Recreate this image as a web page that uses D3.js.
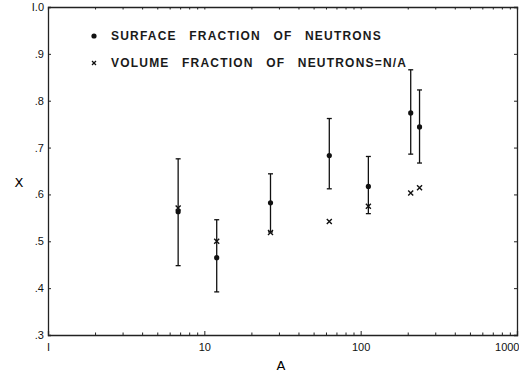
<!DOCTYPE html>
<html lang="en">
<head>
<meta charset="UTF-8">
<title>Surface fraction of neutrons</title>
<style>
    body { margin: 0; background: #fff; }
    svg { display: block; font-family: 'DejaVu Sans', sans-serif; }
    .axis path { stroke: #222; stroke-width: 1.3; }
    .axis line { stroke: #222; stroke-width: 1; }
    .axis text { font-size: 11px; fill: #111; }
    .legend text { font-family: 'Liberation Sans', Arial, sans-serif; font-size: 12px; font-weight: bold; fill: #1a1a1a; letter-spacing: 1.2px; word-spacing: 8px; }
</style>
</head>
<body>
<div id="chart"></div>
<script src="https://d3js.org/d3.v7.min.js"></script>
<script>
// mass number A of each nucleus
const massNumbers = [6.8, 12, 26.5, 63, 112, 209, 238];
// surface fraction of neutrons with error bars
const surface = [0.563, 0.465, 0.582, 0.683, 0.617, 0.774, 0.744];
const surfaceLow = [0.448, 0.392, 0.520, 0.612, 0.559, 0.686, 0.667];
const surfaceHigh = [0.676, 0.546, 0.644, 0.762, 0.681, 0.866, 0.823];
// volume fraction = N/A
const volume = [0.571, 0.500, 0.519, 0.542, 0.575, 0.603, 0.614];

const xTickValues = [1, 10, 100, 1000];
const xTickLabels = ["I", "10", "100", "1000"];
const yTickValues = [0.3, 0.4, 0.5, 0.6, 0.7, 0.8, 0.9, 1.0];
const yTickLabels = [".3", ".4", ".5", ".6", ".7", ".8", ".9", "I.0"];
const legendLabels = ["SURFACE FRACTION OF NEUTRONS", "VOLUME FRACTION OF NEUTRONS=N/A"];

const margin = {top: 7, right: 2, bottom: 39, left: 48},
    width = 519 - margin.left - margin.right,
    height = 374 - margin.top - margin.bottom;

const svg = d3.select("#chart")
  .append("svg")
    .attr("width", 519)
    .attr("height", 374)
  .append("g")
    .attr("transform", "translate(" + margin.left + "," + margin.top + ")");

const x = d3.scaleLog().domain([1, 1000]).range([0, width]);
const y = d3.scaleLinear().domain([0.3, 1.0]).range([height, 0]);

// minor log ticks 2..9 in each decade
const minorTicks = [];
[1, 10, 100].forEach(d => { for (let k = 2; k <= 9; k++) minorTicks.push(d * k); });

// bottom axis: majors with labels, minors pointing up
const bottom = svg.append("g").attr("class", "axis")
    .attr("transform", "translate(0," + height + ")")
    .call(d3.axisBottom(x).tickValues(xTickValues).tickSize(-4).tickPadding(8)
        .tickFormat((d, i) => xTickLabels[i]));
// last label sits on the right edge, keep it inside the page
bottom.selectAll(".tick text").filter(d => d === 1000)
    .attr("text-anchor", "end").attr("x", 2);
svg.append("g").attr("class", "axis")
    .attr("transform", "translate(0," + height + ")")
    .call(d3.axisBottom(x).tickValues(minorTicks).tickSize(-2.5).tickFormat(""))
    .select(".domain").remove();

// top axis
svg.append("g").attr("class", "axis")
    .call(d3.axisTop(x).tickValues(xTickValues.concat(minorTicks)).tickSize(-2.5).tickFormat(""))
    .select(".domain").attr("stroke-width", 1);

// left and right axes
svg.append("g").attr("class", "axis")
    .call(d3.axisLeft(y).tickValues(yTickValues).tickSize(-3).tickPadding(4)
        .tickFormat((d, i) => yTickLabels[i]));
svg.append("g").attr("class", "axis")
    .attr("transform", "translate(" + width + ",0)")
    .call(d3.axisRight(y).tickValues(yTickValues).tickSize(-3).tickFormat(""));

// axis titles
svg.append("text")
    .attr("x", 281 - margin.left)
    .attr("y", height + 35)
    .attr("text-anchor", "middle")
    .style("font-size", "13px")
    .text("A");
svg.append("text")
    .attr("x", 19 - margin.left)
    .attr("y", 187 - margin.top)
    .attr("text-anchor", "middle")
    .style("font-size", "13px")
    .text("X");

const points = massNumbers.map((a, i) => ({
    a: a, s: surface[i], lo: surfaceLow[i], hi: surfaceHigh[i], v: volume[i]
}));

// error bars
const bars = svg.append("g").attr("stroke", "#111").attr("stroke-width", 1.3);
bars.selectAll(".err")
    .data(points)
    .join("line")
    .attr("x1", d => x(d.a)).attr("x2", d => x(d.a))
    .attr("y1", d => y(d.lo)).attr("y2", d => y(d.hi));
bars.selectAll(".capHi")
    .data(points)
    .join("line")
    .attr("x1", d => x(d.a) - 2.5).attr("x2", d => x(d.a) + 2.5)
    .attr("y1", d => y(d.hi)).attr("y2", d => y(d.hi));
bars.selectAll(".capLo")
    .data(points)
    .join("line")
    .attr("x1", d => x(d.a) - 2.5).attr("x2", d => x(d.a) + 2.5)
    .attr("y1", d => y(d.lo)).attr("y2", d => y(d.lo));

// volume fraction markers
const cross = d3.symbol().type(d3.symbolTimes).size(18);
svg.append("g").selectAll("path")
    .data(points)
    .join("path")
    .attr("d", cross)
    .attr("transform", d => "translate(" + x(d.a) + "," + y(d.v) + ")")
    .attr("fill", "none")
    .attr("stroke", "#111")
    .attr("stroke-width", 1.4);

// surface fraction dots
svg.append("g").selectAll("circle")
    .data(points)
    .join("circle")
    .attr("cx", d => x(d.a))
    .attr("cy", d => y(d.s))
    .attr("r", 2.6)
    .attr("fill", "#111");

// legend
const legend = svg.append("g").attr("class", "legend");
legend.append("circle")
    .attr("cx", 94 - margin.left).attr("cy", 36 - margin.top)
    .attr("r", 2.6).attr("fill", "#111");
legend.append("path")
    .attr("d", d3.symbol().type(d3.symbolTimes).size(12))
    .attr("transform", "translate(" + (94 - margin.left) + "," + (63 - margin.top) + ")")
    .attr("fill", "none").attr("stroke", "#111").attr("stroke-width", 1.3);
legend.selectAll("text")
    .data(legendLabels)
    .join("text")
    .attr("x", 111 - margin.left)
    .attr("y", (d, i) => (40 - margin.top) + i * 27)
    .text(d => d);
</script>
</body>
</html>
